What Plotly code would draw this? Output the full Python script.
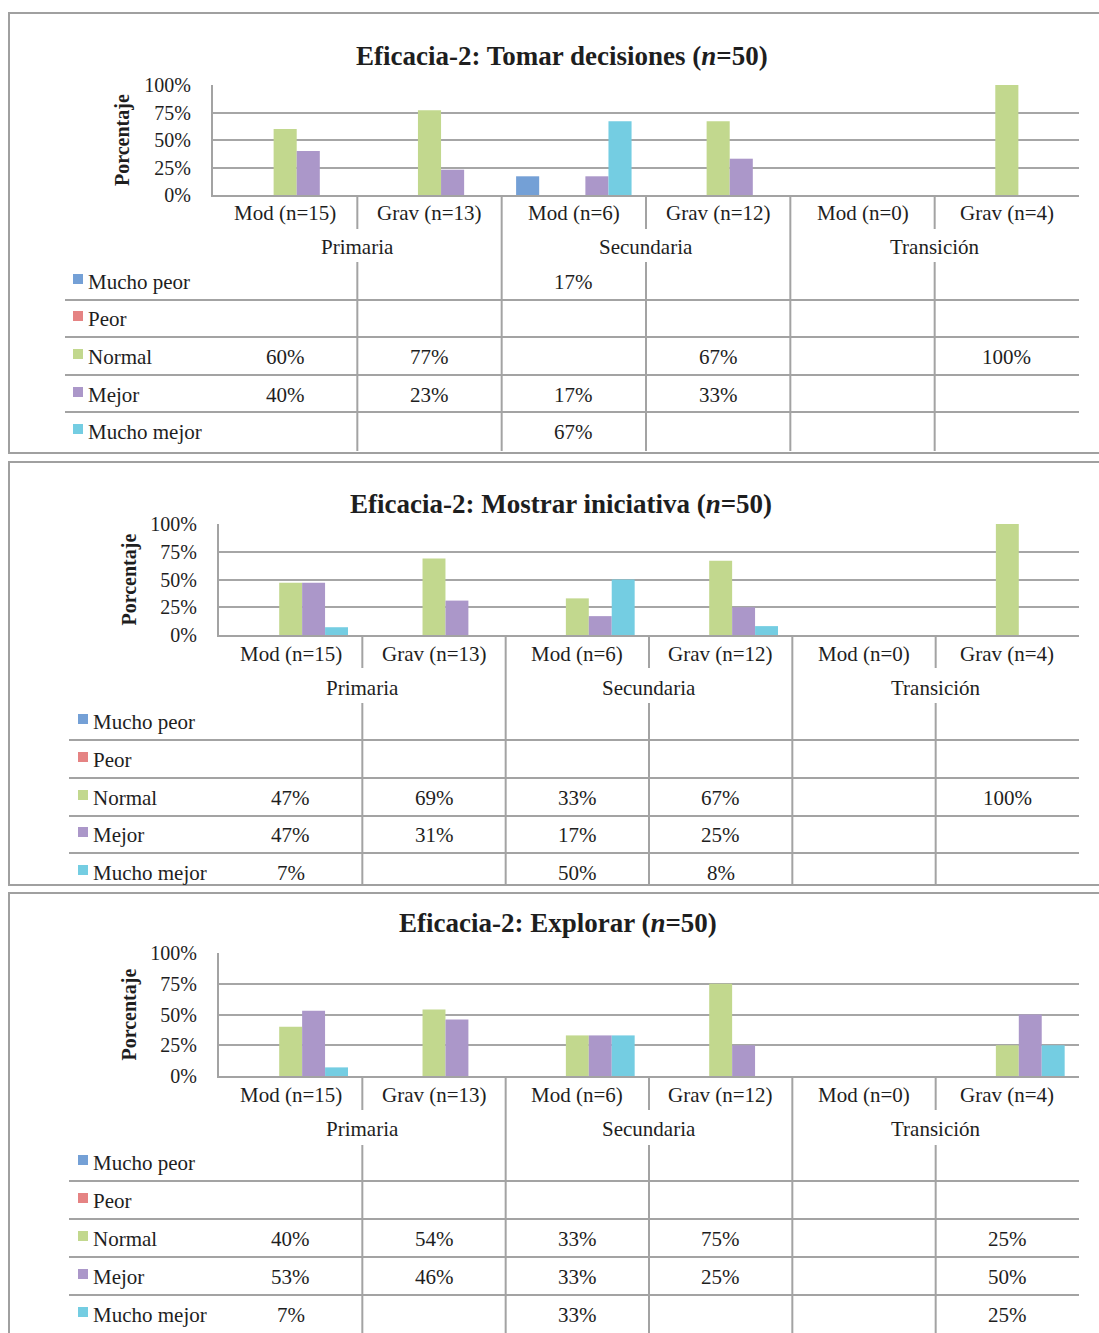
import plotly.graph_objects as go

W, H = 1099, 1333

# ---------------- data ----------------
categories = ["Mod (n=15)", "Grav (n=13)", "Mod (n=6)", "Grav (n=12)", "Mod (n=0)", "Grav (n=4)"]
groups = ["Primaria", "Secundaria", "Transición"]
group_centers = [0.5, 2.5, 4.5]
series_names = ["Mucho peor", "Peor", "Normal", "Mejor", "Mucho mejor"]
series_colors = ["#74a0d6", "#e58383", "#c2d88e", "#ab97c9", "#74cde2"]
y_tick_values = [0, 25, 50, 75, 100]
y_tick_labels = ["0%", "25%", "50%", "75%", "100%"]

titles = [
    "<b>Eficacia-2: Tomar decisiones (<i>n</i>=50)</b>",
    "<b>Eficacia-2: Mostrar iniciativa (<i>n</i>=50)</b>",
    "<b>Eficacia-2: Explorar (<i>n</i>=50)</b>",
]

# Panel 1: Tomar decisiones
decisiones_mucho_peor = [None, None, 17, None, None, None]
decisiones_peor = [None, None, None, None, None, None]
decisiones_normal = [60, 77, None, 67, None, 100]
decisiones_mejor = [40, 23, 17, 33, None, None]
decisiones_mucho_mejor = [None, None, 67, None, None, None]

# Panel 2: Mostrar iniciativa
iniciativa_mucho_peor = [None, None, None, None, None, None]
iniciativa_peor = [None, None, None, None, None, None]
iniciativa_normal = [47, 69, 33, 67, None, 100]
iniciativa_mejor = [47, 31, 17, 25, None, None]
iniciativa_mucho_mejor = [7, None, 50, 8, None, None]

# Panel 3: Explorar
explorar_mucho_peor = [None, None, None, None, None, None]
explorar_peor = [None, None, None, None, None, None]
explorar_normal = [40, 54, 33, 75, None, 25]
explorar_mejor = [53, 46, 33, 25, None, 50]
explorar_mucho_mejor = [7, None, 33, None, None, 25]

panel_series = [
    [decisiones_mucho_peor, decisiones_peor, decisiones_normal, decisiones_mejor, decisiones_mucho_mejor],
    [iniciativa_mucho_peor, iniciativa_peor, iniciativa_normal, iniciativa_mejor, iniciativa_mucho_mejor],
    [explorar_mucho_peor, explorar_peor, explorar_normal, explorar_mejor, explorar_mucho_mejor],
]

# ---------------- layout geometry (pixels) ----------------
panels_geo = [
    dict(plot_x=(213, 1079), plot_y=(85, 195), title_x=562, title_y=56, ytitle_x=123,
         cat_y=213, grp_y=247, sep_short_end=229, table_top=262, table_bottom=451,
         rows_y=[282, 319, 357, 395, 432], row_lines=[300, 337, 375, 412],
         table_left=65, swatch_x=73, label_x=86, border=(9, 13, 453)),
    dict(plot_x=(219, 1079), plot_y=(524, 635), title_x=561, title_y=504, ytitle_x=129,
         cat_y=654, grp_y=688, sep_short_end=668, table_top=703, table_bottom=884,
         rows_y=[722, 760, 798, 835, 873], row_lines=[740, 778, 816, 853],
         table_left=69, swatch_x=78, label_x=91, border=(9, 462, 885)),
    dict(plot_x=(219, 1079), plot_y=(953, 1076), title_x=558, title_y=923, ytitle_x=129,
         cat_y=1095, grp_y=1129, sep_short_end=1110, table_top=1145, table_bottom=1345,
         rows_y=[1163, 1201, 1239, 1277, 1315], row_lines=[1181, 1219, 1257, 1295],
         table_left=69, swatch_x=78, label_x=91, border=(9, 893, 1350)),
]

FONT = "Liberation Serif, Times New Roman, serif"
TXT = "#1e1e1e"
GRID = "#a6a6a6"
LINE = "#a3a3a3"


def px(x):
    return x / W


def py(y):
    return 1 - y / H


fig = go.Figure()
shapes = []
annotations = []
layout_axes = {}

for p, (geo, series, title) in enumerate(zip(panels_geo, panel_series, titles)):
    sfx = "" if p == 0 else str(p + 1)
    xa, ya = "x" + sfx, "y" + sfx

    for name, vals, col in zip(series_names, series, series_colors):
        fig.add_trace(go.Bar(
            x=categories, y=vals, name=name, marker=dict(color=col, line=dict(width=0)),
            xaxis=xa, yaxis=ya, showlegend=False, hoverinfo="skip",
        ))

    layout_axes["xaxis" + sfx] = dict(
        domain=[px(geo["plot_x"][0]), px(geo["plot_x"][1])], anchor=ya,
        type="category", categoryorder="array", categoryarray=categories,
        range=[-0.5, 5.5], showticklabels=False, showgrid=False, zeroline=False,
        showline=True, linecolor=LINE, linewidth=2, ticks="", fixedrange=True,
        automargin=False,
    )
    layout_axes["yaxis" + sfx] = dict(
        domain=[py(geo["plot_y"][1]), py(geo["plot_y"][0])], anchor=xa,
        range=[0, 100], tickmode="array", tickvals=y_tick_values, ticktext=y_tick_labels,
        showgrid=True, gridcolor=GRID, gridwidth=2, zeroline=False,
        showline=True, linecolor=LINE, linewidth=2, ticks="",
        ticklabelstandoff=16, tickfont=dict(family=FONT, size=20, color=TXT),
        fixedrange=True, automargin=False,
    )

    # panel border
    bx, btop, bbot = geo["border"]
    shapes.append(dict(type="rect", xref="paper", yref="paper",
                       x0=px(bx), x1=px(1115), y0=py(bbot), y1=py(btop),
                       line=dict(color="#a0a0a0", width=2), fillcolor="rgba(0,0,0,0)", layer="below"))

    # title
    annotations.append(dict(text=title, xref="paper", yref="paper", x=px(geo["title_x"]), y=py(geo["title_y"]),
                            xanchor="center", yanchor="middle", showarrow=False,
                            font=dict(family=FONT, size=27, color=TXT)))
    # y title
    annotations.append(dict(text="<b>Porcentaje</b>", xref="paper", yref="paper",
                            x=px(geo["ytitle_x"]), y=py((geo["plot_y"][0] + geo["plot_y"][1]) / 2),
                            xanchor="center", yanchor="middle", textangle=-90, showarrow=False,
                            font=dict(family=FONT, size=20, color=TXT)))

    # category labels
    for i, c in enumerate(categories):
        annotations.append(dict(text=c, xref=xa, yref="paper", x=i, y=py(geo["cat_y"]),
                                xanchor="center", yanchor="middle", showarrow=False,
                                font=dict(family=FONT, size=21, color=TXT)))
    # group labels
    for g, gc in zip(groups, group_centers):
        annotations.append(dict(text=g, xref=xa, yref="paper", x=gc, y=py(geo["grp_y"]),
                                xanchor="center", yanchor="middle", showarrow=False,
                                font=dict(family=FONT, size=21, color=TXT)))

    # separators
    axis_y = geo["plot_y"][1]
    for b in [0.5, 1.5, 2.5, 3.5, 4.5]:
        if b in (1.5, 3.5):
            shapes.append(dict(type="line", xref=xa, yref="paper", x0=b, x1=b,
                               y0=py(axis_y), y1=py(geo["table_bottom"]), line=dict(color=LINE, width=2)))
        else:
            shapes.append(dict(type="line", xref=xa, yref="paper", x0=b, x1=b,
                               y0=py(axis_y), y1=py(geo["sep_short_end"]), line=dict(color=LINE, width=2)))
            shapes.append(dict(type="line", xref=xa, yref="paper", x0=b, x1=b,
                               y0=py(geo["table_top"]), y1=py(geo["table_bottom"]), line=dict(color=LINE, width=2)))

    # table row lines
    for ry in geo["row_lines"]:
        shapes.append(dict(type="line", xref="paper", yref="paper", x0=px(geo["table_left"]), x1=px(geo["plot_x"][1]),
                           y0=py(ry), y1=py(ry), line=dict(color=LINE, width=2)))

    # table rows: swatch, label, values
    for s, (name, vals, col) in enumerate(zip(series_names, series, series_colors)):
        ry = geo["rows_y"][s]
        sx = geo["swatch_x"]
        shapes.append(dict(type="rect", xref="paper", yref="paper", x0=px(sx), x1=px(sx + 10),
                           y0=py(ry + 2), y1=py(ry - 8), line=dict(width=0), fillcolor=col))
        annotations.append(dict(text=name, xref="paper", yref="paper", x=px(geo["label_x"]), y=py(ry),
                                xanchor="left", yanchor="middle", showarrow=False,
                                font=dict(family=FONT, size=21, color=TXT)))
        for i, v in enumerate(vals):
            if v is not None:
                annotations.append(dict(text=f"{v}%", xref=xa, yref="paper", x=i, y=py(ry),
                                        xanchor="center", yanchor="middle", showarrow=False,
                                        font=dict(family=FONT, size=21, color=TXT)))

fig.update_layout(
    width=W, height=H, autosize=False,
    margin=dict(l=0, r=0, t=0, b=0, pad=0, autoexpand=False),
    paper_bgcolor="white", plot_bgcolor="white",
    barmode="group", bargap=0.2, bargroupgap=0,
    font=dict(family=FONT, size=20, color=TXT),
    shapes=shapes, annotations=annotations,
    **layout_axes,
)

fig.write_html("out.html", config={"displayModeBar": False},
               post_script="document.body.style.margin='0px';document.body.style.overflow='hidden';")
